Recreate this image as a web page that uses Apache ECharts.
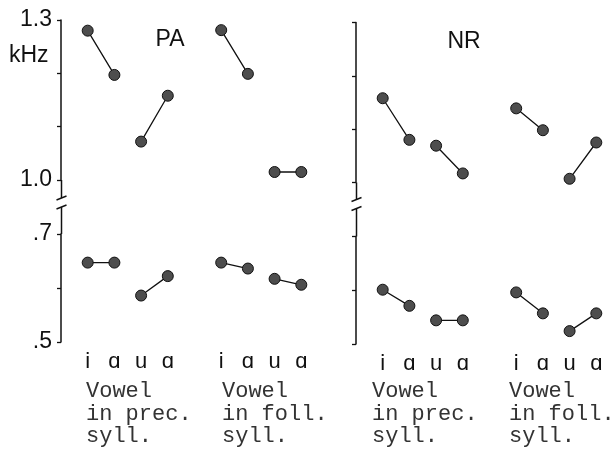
<!DOCTYPE html>
<html>
<head>
<meta charset="utf-8">
<script src="https://cdn.jsdelivr.net/npm/echarts@6/dist/echarts.min.js"></script>
<style>
  html, body { margin: 0; padding: 0; background: #fff; }
  #chart { width: 614px; height: 449px; }
</style>
</head>
<body>
<div id="chart"></div>
<script>
// categories: blank slot at the axis, then i a u a, a gap, then i a u a
const vowels = ['i', 'ɑ', 'u', 'ɑ'];
const xCats = ['', ...vowels, '', ...vowels];

// values per panel, order i, a, u, a (kHz)
const paHighPrec = [1.280, 1.197, 1.072, 1.158];
const paHighFoll = [1.281, 1.199, 1.015, 1.015];
const paLowPrec  = [0.647, 0.647, 0.586, 0.622];
const paLowFoll  = [0.647, 0.636, 0.617, 0.606];
const nrHighPrec = [1.158, 1.080, 1.069, 1.017];
const nrHighFoll = [1.139, 1.098, 1.007, 1.075];
const nrLowPrec  = [0.601, 0.571, 0.544, 0.544];
const nrLowFoll  = [0.596, 0.557, 0.524, 0.557];

const highTicks = ['1.3', '1.0'];
const lowTicks = ['.7', '.5'];
const panelNames = ['PA', 'NR'];
const groupTexts = ['Vowel\nin prec.\nsyll.', 'Vowel\nin foll.\nsyll.'];

const SANS = "'Liberation Sans', Arial, sans-serif";
const MONO = "'Liberation Mono', 'Courier New', monospace";

// layout
const PA_X = 61, NR_X = 356;
const PLOT_W = 240.3;
const grids = [
    { left: PA_X, top: 20,    width: PLOT_W, height: 160 },   // PA high
    { left: PA_X, top: 234,   width: PLOT_W, height: 108 },   // PA low
    { left: NR_X, top: 22.5,  width: PLOT_W, height: 160 },   // NR high
    { left: NR_X, top: 236.5, width: PLOT_W, height: 107.5 }  // NR low
];

// split one panel row into the two connected pairs (i-a) and (u-a)
function pairData(prec, foll) {
    const ia = xCats.map(() => null);
    const ua = xCats.map(() => null);
    ia[1] = prec[0]; ia[2] = prec[1]; ia[6] = foll[0]; ia[7] = foll[1];
    ua[3] = prec[2]; ua[4] = prec[3]; ua[8] = foll[2]; ua[9] = foll[3];
    return [ia, ua];
}

const rows = [
    pairData(paHighPrec, paHighFoll),
    pairData(paLowPrec, paLowFoll),
    pairData(nrHighPrec, nrHighFoll),
    pairData(nrLowPrec, nrLowFoll)
];

function fmt(v, labels) {
    const s = v >= 1 ? v.toFixed(1) : '.' + Math.round(v * 10);
    return labels.indexOf(s) >= 0 ? s : '';
}

const xAxis = grids.map((g, i) => ({
    type: 'category',
    gridIndex: i,
    data: xCats,
    boundaryGap: false,
    axisLine: { show: false },
    axisTick: { show: false },
    splitLine: { show: false },
    axisLabel: {
        show: i % 2 === 1,
        interval: 0,
        margin: 9,
        color: '#111',
        fontSize: 22,
        fontFamily: SANS
    }
}));

const yAxis = grids.map((g, i) => {
    const high = i % 2 === 0;
    const pa = i < 2;
    return {
        type: 'value',
        gridIndex: i,
        min: high ? 1.0 : 0.5,
        max: high ? 1.3 : 0.7,
        interval: 0.1,
        axisLine: { show: true, lineStyle: { color: '#111', width: 1.5 } },
        axisTick: { show: true, length: 4, lineStyle: { color: '#111', width: 1.3 } },
        splitLine: { show: false },
        axisLabel: {
            show: pa,
            margin: 9,
            color: '#111',
            fontSize: 23,
            fontFamily: SANS,
            formatter: v => fmt(v, high ? highTicks : lowTicks)
        }
    };
});

const series = [];
rows.forEach((pair, gi) => {
    pair.forEach(data => {
        series.push({
            type: 'line',
            xAxisIndex: gi,
            yAxisIndex: gi,
            data: data,
            connectNulls: false,
            symbol: 'circle',
            symbolSize: 11,
            showSymbol: true,
            lineStyle: { color: '#111', width: 1.3 },
            itemStyle: { color: '#4d4d4d', borderColor: '#111', borderWidth: 1 },
            silent: true
        });
    });
});

// axis continuations and break marks
const deco = [];
[[PA_X, 180, 198, 207, 234], [NR_X, 182.5, 199.5, 208.5, 236.5]].forEach(([x, a0, a1, b0, b1]) => {
    const lx = x + 0.5;
    const st = { stroke: '#111', lineWidth: 1.5 };
    deco.push({ type: 'line', shape: { x1: lx, y1: a0, x2: lx, y2: a1 }, style: st });
    deco.push({ type: 'line', shape: { x1: lx, y1: b0, x2: lx, y2: b1 }, style: st });
    deco.push({ type: 'line', shape: { x1: lx - 5, y1: a1 + 2, x2: lx + 5, y2: a1 - 2 }, style: st });
    deco.push({ type: 'line', shape: { x1: lx - 5, y1: b0 + 2, x2: lx + 5, y2: b0 - 2 }, style: st });
});

deco.push({
    type: 'text', left: 9, top: 44,
    style: { text: 'kHz', fill: '#111', font: '23px ' + SANS }
});

[[170, 40], [464, 42]].forEach(([cx, cy], i) => {
    deco.push({
        type: 'text', x: cx, y: cy,
        style: { text: panelNames[i], fill: '#111', font: '23px ' + SANS, textAlign: 'center', textVerticalAlign: 'middle' }
    });
});

[[86, 0], [222, 1], [372, 0], [509, 1]].forEach(([x, t]) => {
    deco.push({
        type: 'text', x: x, y: 380,
        style: { text: groupTexts[t], fill: '#333', font: '22px ' + MONO, lineHeight: 22.5, textVerticalAlign: 'top' }
    });
});

const chart = echarts.init(document.getElementById('chart'), null, { renderer: 'canvas' });
chart.setOption({
    animation: false,
    backgroundColor: '#fff',
    grid: grids,
    xAxis: xAxis,
    yAxis: yAxis,
    series: series,
    graphic: deco
});
</script>
</body>
</html>
